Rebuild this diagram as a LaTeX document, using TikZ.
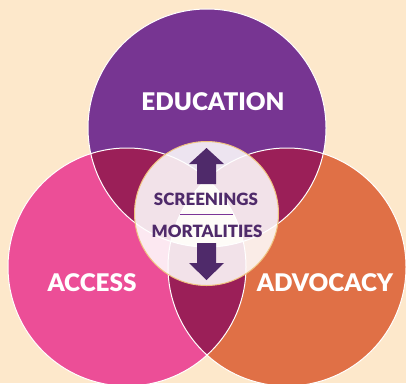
\documentclass[tikz,border=0pt]{standalone}
\usepackage{fontspec}
\setmainfont{Lato}
\newfontfamily\heavyfont{Lato Black}
\definecolor{cream}{HTML}{FDE8CB}
\definecolor{eduPurple}{HTML}{773592}
\definecolor{accPink}{HTML}{EC4E97}
\definecolor{advOrange}{HTML}{E07046}
\definecolor{overlap}{HTML}{9B1F58}
\definecolor{ink}{HTML}{4F2A6A}
\definecolor{rule}{HTML}{7B3596}
\definecolor{rim}{HTML}{EFC27F}
\begin{document}
\begin{tikzpicture}[x=1pt,y=-1pt,
  bigword/.style={text=white,font=\heavyfont\fontsize{24.3}{26}\selectfont,inner sep=0pt},
  smallword/.style={text=ink,font=\heavyfont\fontsize{16.9}{18}\selectfont,inner sep=0pt},
  outline/.style={draw=white,line width=1pt},
  arrowbody/.style={fill=ink}]
\fill[cream] (0,0) rectangle (406,383);
\useasboundingbox (0,0) rectangle (406,383);
\def\R{119pt}
\coordinate (E) at (207,128);
\coordinate (A) at (127,267);
\coordinate (V) at (287,267);
\coordinate (C) at (206.5,213.5);
% the three sets
\fill[eduPurple] (E) circle[radius=\R];
\fill[accPink] (A) circle[radius=\R];
\fill[advOrange] (V) circle[radius=\R];
% pairwise overlaps
\begin{scope}
  \clip (E) circle[radius=\R];
  \fill[overlap] (A) circle[radius=\R];
  \fill[overlap] (V) circle[radius=\R];
\end{scope}
\begin{scope}
  \clip (A) circle[radius=\R];
  \fill[overlap] (V) circle[radius=\R];
\end{scope}
% common core
\begin{scope}
  \clip (E) circle[radius=\R];
  \clip (A) circle[radius=\R];
  \fill[cream] (V) circle[radius=\R];
\end{scope}
\draw[outline] (E) circle[radius=\R];
\draw[outline] (A) circle[radius=\R];
\draw[outline] (V) circle[radius=\R];
% central lens
\fill[white,opacity=0.87] (C) circle[radius=72pt];
\draw[rim,line width=1pt] (C) circle[radius=72pt];
% labels
\node[bigword] (edu) at (213,102) {EDUCATION};
\node[bigword] (acc) at (92,283) {ACCESS};
\node[bigword] (adv) at (325,283) {ADVOCACY};
\node[smallword] (scr) at (206,199) {SCREENINGS};
\node[smallword] (mor) at (207,231) {MORTALITIES};
\draw[rule,line width=1pt] (180,214) -- (233,214);
% up and down arrows
\fill[arrowbody] (197,184) -- (197,164) -- (189,164) -- (206.5,148) -- (224,164) -- (216,164) -- (216,184) -- cycle;
\fill[arrowbody] (197,243) -- (197,263) -- (189,263) -- (206.5,280) -- (224,263) -- (216,263) -- (216,243) -- cycle;
\end{tikzpicture}
\end{document}
